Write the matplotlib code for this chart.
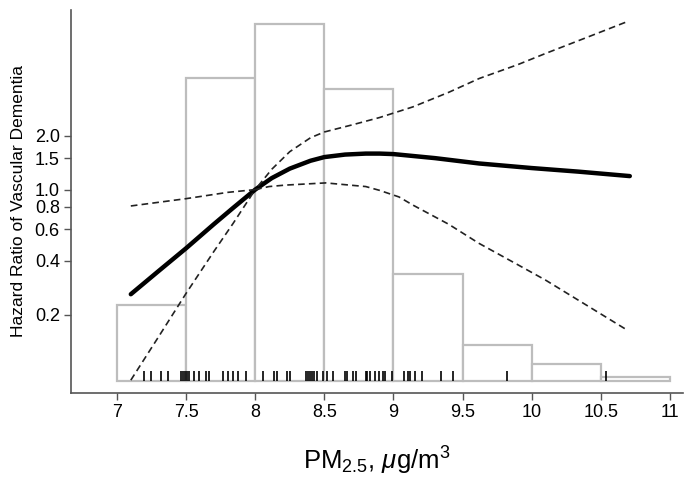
import matplotlib
matplotlib.use("Agg")
import matplotlib.pyplot as plt
import numpy as np

plt.rcParams['font.family'] = ['Liberation Sans', 'DejaVu Sans']
plt.rcParams['mathtext.fontset'] = 'custom'
plt.rcParams['mathtext.rm'] = 'Liberation Sans'
plt.rcParams['mathtext.it'] = 'Liberation Sans:italic'

# Histogram of PM2.5 (relative frequency, arbitrary units)
bin_edges = [7.0, 7.5, 8.0, 8.5, 9.0, 9.5, 10.0, 10.5, 11.0]
bin_heights = [76, 303, 357, 292, 107, 36, 17, 4]

# Rug of observed exposures
rug_x = [7.195, 7.245, 7.318, 7.368, 7.462, 7.477, 7.491, 7.505, 7.520, 7.556,
         7.592, 7.643, 7.664, 7.765, 7.801, 7.838, 7.874, 7.931, 8.054, 8.134,
         8.155, 8.227, 8.249, 8.365, 8.379, 8.394, 8.408, 8.422, 8.444, 8.487,
         8.516, 8.560, 8.646, 8.661, 8.704, 8.726, 8.798, 8.812, 8.827, 8.870,
         8.892, 8.921, 8.942, 8.993, 9.079, 9.108, 9.123, 9.159, 9.209, 9.347,
         9.433, 9.823, 10.538]

# Hazard ratio curve
hr_x = [7.1, 7.3, 7.5, 7.7, 7.84, 8.0, 8.12, 8.25, 8.4, 8.5, 8.65, 8.8, 8.9,
        9.0, 9.3, 9.62, 10.0, 10.34, 10.71]
hr_y = [0.26, 0.35, 0.47, 0.64, 0.79, 1.0, 1.16, 1.31, 1.45, 1.52, 1.57, 1.59,
        1.59, 1.58, 1.50, 1.40, 1.32, 1.26, 1.19]

# Upper 95% CI
up_x = [7.1, 7.5, 7.8, 8.0, 8.12, 8.25, 8.4, 8.5, 8.7, 8.9, 9.14, 9.4, 9.62,
        9.9, 10.1, 10.4, 10.7]
up_y = [0.81, 0.89, 0.965, 1.0, 1.3, 1.63, 1.95, 2.1, 2.3, 2.53, 2.9, 3.5,
        4.18, 5.0, 5.77, 7.1, 8.75]

# Lower 95% CI
lo_x = [7.1, 7.3, 7.5, 7.7, 7.84, 8.0, 8.1, 8.22, 8.51, 8.8, 8.9, 9.04, 9.14,
        9.4, 9.62, 9.9, 10.1, 10.4, 10.69]
lo_y = [0.086, 0.15, 0.263, 0.45, 0.647, 1.0, 1.04, 1.06, 1.09, 1.04, 0.99,
        0.91, 0.82, 0.64, 0.50, 0.38, 0.312, 0.225, 0.164]

yticks = [0.2, 0.4, 0.6, 0.8, 1.0, 1.5, 2.0]
ytick_labels = ['0.2', '0.4', '0.6', '0.8', '1.0', '1.5', '2.0']
xticks = [7, 7.5, 8, 8.5, 9, 9.5, 10, 10.5, 11]
xtick_labels = ['7', '7.5', '8', '8.5', '9', '9.5', '10', '10.5', '11']

fig = plt.figure(figsize=(6.87, 4.88), dpi=100)
ax = fig.add_axes([0.1033, 0.1947, 0.8907, 0.7848])
axh = ax.twinx()
ax.set_zorder(axh.get_zorder() + 1)
ax.patch.set_visible(False)

# histogram on secondary axis
axh.bar(bin_edges[:-1], bin_heights, width=np.diff(bin_edges), align='edge',
        facecolor='white', edgecolor='#bdbdbd', linewidth=1.6)
axh.vlines(rug_x, 0, 10, color='black', linewidth=1.2)
axh.set_ylim(-12, 371)
axh.set_yticks([])
for s in axh.spines.values():
    s.set_visible(False)

# curves
ax.plot(hr_x, hr_y, color='black', linewidth=3.2, solid_capstyle='round')
ax.plot(up_x, up_y, color='#222222', linewidth=1.2, linestyle=(0, (4, 2.5)))
ax.plot(lo_x, lo_y, color='#222222', linewidth=1.2, linestyle=(0, (4, 2.5)))

ax.set_yscale('log')
ax.set_ylim(0.0729, 10.1)
ax.set_xlim(6.667, 11.094)
ax.set_yticks(yticks)
ax.set_yticklabels(ytick_labels)
ax.yaxis.set_minor_locator(matplotlib.ticker.NullLocator())
ax.set_xticks(xticks)
ax.set_xticklabels(xtick_labels)

for s in ['top', 'right']:
    ax.spines[s].set_visible(False)
for s in ['left', 'bottom']:
    ax.spines[s].set_color('#555555')
    ax.spines[s].set_linewidth(1.2)
ax.tick_params(axis='both', length=5, width=1, color='#555555',
               labelsize=13, pad=3)

ax.set_ylabel('Hazard Ratio of Vascular Dementia', fontsize=12.5, labelpad=6)
ax.set_xlabel(r'PM$_{2.5}$, $\mathit{\mu}$g/m$^{3}$', fontsize=18.5, labelpad=17)

fig.savefig('out.png', dpi=100)
